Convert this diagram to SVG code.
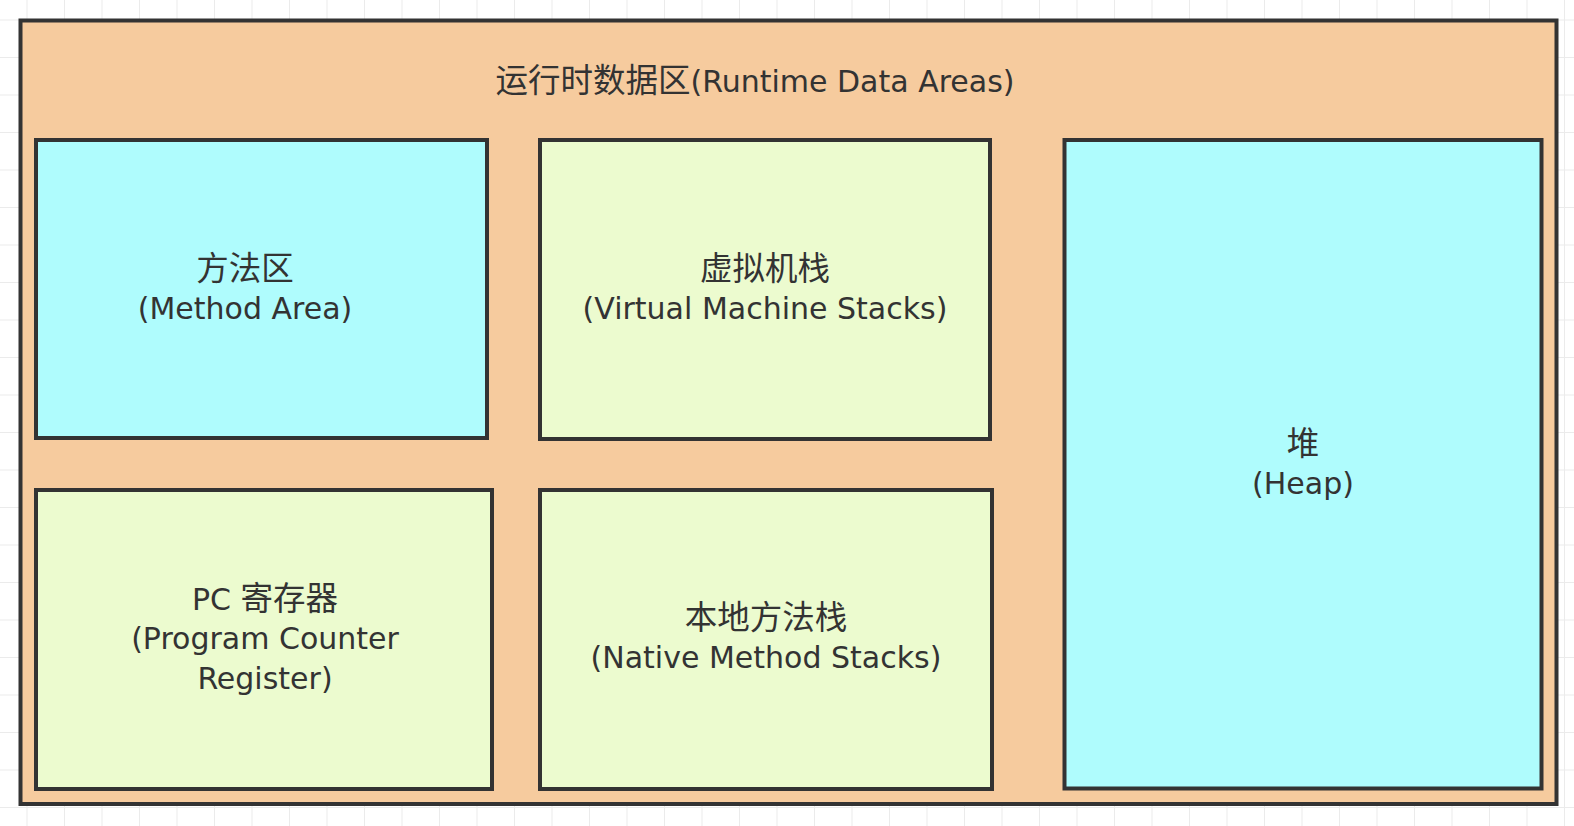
<svg xmlns="http://www.w3.org/2000/svg" width="1574" height="826" viewBox="0 0 1574 826">
  <defs>
    <pattern id="grid" patternUnits="userSpaceOnUse" x="26.5" y="19.5" width="37.5" height="37.5">
      <rect x="0" y="0" width="1" height="37.5" fill="#ebebeb"/>
      <rect x="0" y="0" width="37.5" height="1" fill="#ebebeb"/>
    </pattern>
  </defs>
  <style>
    .box { stroke: #333333; stroke-width: 4; }
    .outer { fill: #F6CB9E; }
    .cyan { fill: #AFFCFD; }
    .green { fill: #ECFBCF; }
    .t { font-family: "DejaVu Sans", "Noto Sans CJK SC", sans-serif; font-size: 30px; fill: #333333; text-anchor: middle; }
    .cjk { font-family: "Noto Sans CJK SC", sans-serif; font-size: 32.5px; }
  </style>
  <rect x="0" y="0" width="1574" height="826" fill="#ffffff"/>
  <rect x="0" y="0" width="1574" height="826" fill="url(#grid)"/>

  <g id="runtime-data-areas">
    <rect class="box outer" x="20.5" y="20.5" width="1536" height="783.5"/>
    <text class="t" x="755" y="92"><tspan class="cjk">运行时数据区</tspan>(Runtime Data Areas)</text>
  </g>

  <g id="method-area">
    <rect class="box cyan" x="36" y="140" width="451" height="298"/>
    <text class="t" x="245" y="280"><tspan class="cjk">方法区</tspan></text>
    <text class="t" x="245" y="319">(Method Area)</text>
  </g>

  <g id="vm-stacks">
    <rect class="box green" x="540" y="140" width="450" height="299"/>
    <text class="t" x="765" y="280"><tspan class="cjk">虚拟机栈</tspan></text>
    <text class="t" x="765" y="319">(Virtual Machine Stacks)</text>
  </g>

  <g id="pc-register">
    <rect class="box green" x="36" y="490" width="456" height="299"/>
    <text class="t" x="265" y="610">PC <tspan class="cjk">寄存器</tspan></text>
    <text class="t" x="265" y="649">(Program Counter</text>
    <text class="t" x="265" y="689">Register)</text>
  </g>

  <g id="native-method-stacks">
    <rect class="box green" x="540" y="490" width="452" height="299"/>
    <text class="t" x="766" y="629"><tspan class="cjk">本地方法栈</tspan></text>
    <text class="t" x="766" y="668">(Native Method Stacks)</text>
  </g>

  <g id="heap">
    <rect class="box cyan" x="1064.5" y="140" width="477" height="648.5"/>
    <text class="t" x="1303" y="455"><tspan class="cjk">堆</tspan></text>
    <text class="t" x="1303" y="494">(Heap)</text>
  </g>

  <g id="connectors"></g>
</svg>
